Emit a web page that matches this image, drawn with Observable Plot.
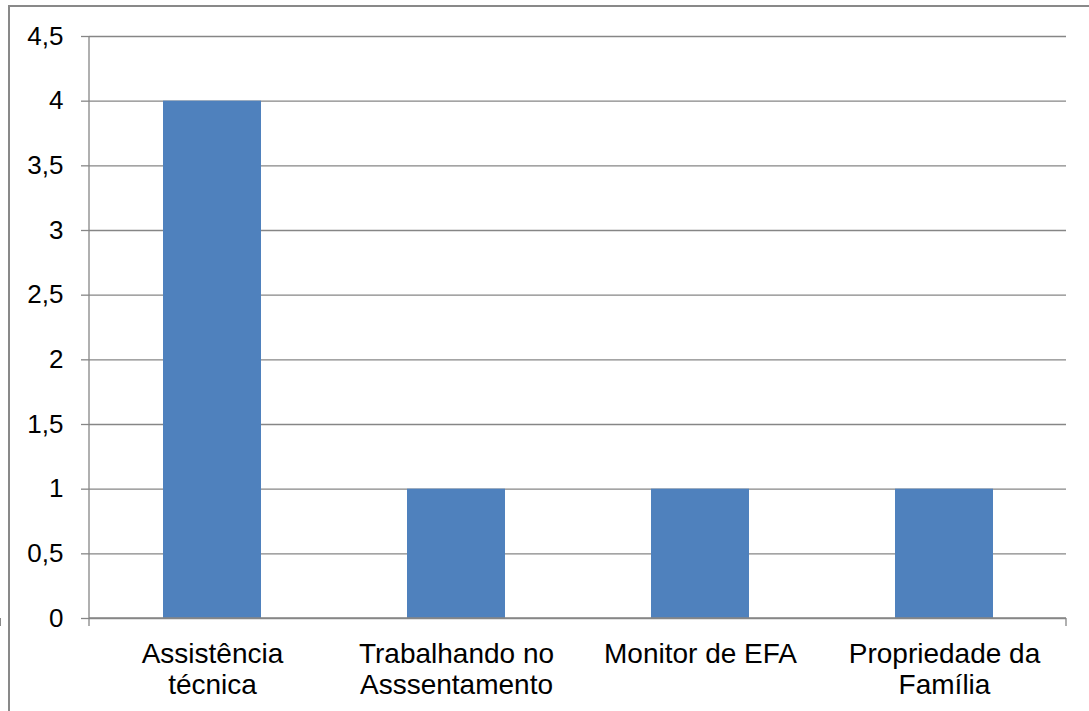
<!DOCTYPE html>
<html>
<head>
<meta charset="utf-8">
<script src="https://cdn.jsdelivr.net/npm/d3@7"></script>
<script src="https://cdn.jsdelivr.net/npm/@observablehq/plot@0.6"></script>
<style>
  html, body { margin: 0; padding: 0; background: #fff; overflow: hidden; }
  #wrap { position: relative; width: 1089px; height: 711px; overflow: hidden; background: #fff; }
  #border { position: absolute; left: 8px; top: 5px; width: 1200px; height: 800px;
            border-left: 2px solid #898989; border-top: 2px solid #898989; box-sizing: border-box; }
  #chart { position: absolute; left: 0; top: 0; }
  #chart svg { overflow: hidden !important; font-family: "Liberation Sans", Arial, sans-serif; }
</style>
</head>
<body>
<div id="wrap"><div id="border"></div><div id="chart"></div></div>
<script>
const categories = ["Assistência técnica", "Trabalhando no Asssentamento", "Monitor de EFA", "Propriedade da Família"];
const tickLabels = ["Assistência\ntécnica", "Trabalhando no\nAsssentamento", "Monitor de EFA", "Propriedade da\nFamília"];
const values = [4, 1, 1, 1];
const yTicks = [0, 0.5, 1, 1.5, 2, 2.5, 3, 3.5, 4, 4.5];

const data = categories.map((c, i) => ({category: c, value: values[i]}));
const labelOf = new Map(categories.map((c, i) => [c, tickLabels[i]]));
const axisColor = "#868686";

// axis lines and band-boundary tick marks, computed from the x scale
function axisFrame(index, scales, values, dims) {
  const x = scales.x, bw = x.bandwidth;
  const left = dims.marginLeft, right = dims.width - dims.marginRight;
  const top = dims.marginTop, bottom = dims.height - dims.marginBottom;
  const bounds = [left];
  for (let i = 0; i < categories.length - 1; i++) {
    bounds.push((x(categories[i]) + bw + x(categories[i + 1])) / 2);
  }
  bounds.push(right);
  const g = d3.create("svg:g").attr("stroke", axisColor).attr("stroke-width", 1.3).attr("fill", "none");
  g.append("line").attr("x1", left).attr("x2", left).attr("y1", top).attr("y2", bottom);
  g.append("line").attr("x1", left).attr("x2", right).attr("y1", bottom).attr("y2", bottom);
  for (const b of bounds) {
    g.append("line").attr("x1", b).attr("x2", b).attr("y1", bottom).attr("y2", bottom + 8);
  }
  return g.node();
}

const plot = Plot.plot({
  width: 1089,
  height: 711,
  marginLeft: 89,
  marginRight: 23,
  marginTop: 36,
  marginBottom: 93,
  style: {background: "transparent", fontFamily: "'Liberation Sans', Arial, sans-serif", color: "#000"},
  x: {domain: categories, paddingInner: 0.6, paddingOuter: 0.3, align: 0.5, label: null},
  y: {domain: [0, 4.5], label: null},
  marks: [
    Plot.gridY(yTicks, {stroke: axisColor, strokeOpacity: 1, strokeWidth: 1.3}),
    Plot.barY(data, {x: "category", y: "value", fill: "#4F81BD"}),
    axisFrame,
    Plot.axisY({ticks: yTicks, tickSize: 8, tickPadding: 18, stroke: axisColor, strokeWidth: 1.3,
      tickFormat: d => String(d).replace(".", ","), fontSize: 26, fill: "#000", label: null}),
    Plot.axisX({tickSize: 0, tickPadding: 23, tickFormat: d => labelOf.get(d), fontSize: 28,
      lineHeight: 1.1, fill: "#000", label: null})
  ]
});
document.getElementById("chart").appendChild(plot);
</script>
</body>
</html>
